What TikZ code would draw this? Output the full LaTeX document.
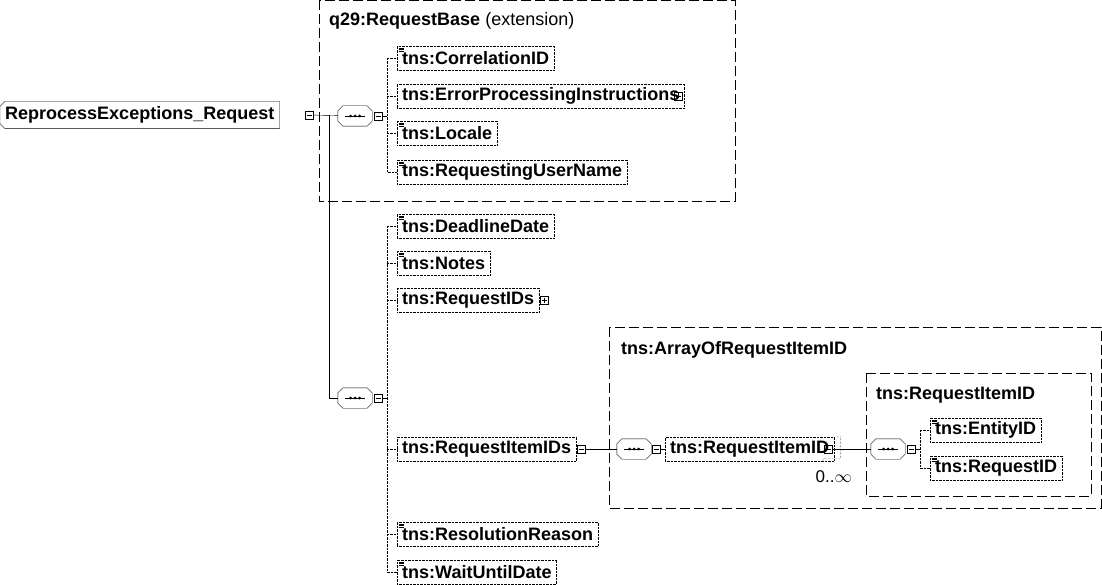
\documentclass[tikz,border=0pt]{standalone}
\usepackage{fontspec}
\setmainfont{Liberation Sans}

\begin{document}
\begin{tikzpicture}[
  x=1pt, y=-1pt,
  font=\fontsize{18}{20}\selectfont\bfseries,
  elem/.style={
    draw, densely dotted, anchor=west, inner xsep=5pt, minimum height=24pt
  },
  root/.style={
    anchor=west, inner xsep=5pt, minimum height=27pt
  },
  group/.style={
    draw, dash pattern=on 10pt off 4pt
  },
  title/.style={
    anchor=west, inner sep=0pt
  },
  seq/.style={
    minimum width=34pt, minimum height=20pt, inner sep=0pt
  },
  box/.style={
    draw, solid, minimum size=8pt, inner sep=0pt
  },
  link/.style={densely dotted}
]
\useasboundingbox (0,0) rectangle (1102,585);

% minus and plus boxes
\newcommand{\minusbox}[2]{%
  \node[box] (#1) at (#2) {};
  \draw ([xshift=-2.5pt]#1.center) -- ([xshift=2.5pt]#1.center);}
\newcommand{\plusbox}[2]{%
  \node[box] (#1) at (#2) {};
  \draw ([xshift=-2.5pt]#1.center) -- ([xshift=2.5pt]#1.center)
        ([yshift=-2.5pt]#1.center) -- ([yshift=2.5pt]#1.center);}
% simple type mark
\newcommand{\simple}[1]{%
  \foreach \k in {0,1.6,3.2}
    \draw[solid, line width=0.5pt] ([xshift=2pt, yshift=-2pt-\k pt]#1.north west) -- ++(5pt,0);}
% sequence symbol
\newcommand{\seqsym}[2]{%
  \node[seq] (#1) at (#2) {};
  \draw ([xshift=5pt]#1.north west) -- ([xshift=-5pt]#1.north east) -- ([yshift=-5pt]#1.north east)
    -- ([yshift=5pt]#1.south east) -- ([xshift=-5pt]#1.south east) -- ([xshift=5pt]#1.south west)
    -- ([yshift=5pt]#1.south west) -- ([yshift=-5pt]#1.north west) -- cycle;
  \draw ([xshift=-10pt]#1.center) -- ([xshift=10pt]#1.center);
  \foreach \d in {-4.5,0,4.5}
    \fill ([xshift=\d pt]#1.center) circle (1.5pt);}

% groups
\draw[group] (319,0) rectangle (735,201);
\node[title] (baseT) at (329,21) {q29:RequestBase \mdseries(extension)};
\draw[group] (609,327) rectangle (1101,508);
\node[title] (arrT) at (621,350) {tns:ArrayOfRequestItemID};
\draw[group] (866,373) rectangle (1091,496);
\node[title] (itemT) at (876,395) {tns:RequestItemID};

% root
\node[root] (root) at (0,115) {ReprocessExceptions\_Request};
\draw ([xshift=5pt]root.north west) -- (root.north east) -- (root.south east)
  -- ([xshift=5pt]root.south west) -- ([yshift=5pt]root.south west)
  -- ([yshift=-5pt]root.north west) -- cycle;
\minusbox{rootB}{309,115}

% first sequence
\seqsym{seqA}{355,116}
\minusbox{seqAB}{378,116}
\draw (rootB) -- (seqA);
\coordinate (busA) at (387,116);
\draw (seqAB) -- (busA);

\node[elem] (corr) at (397,58) {tns:CorrelationID};
\node[elem] (err) at (397,96) {tns:ErrorProcessingInstructions\hspace{11pt}};
\plusbox{errB}{[xshift=-6pt]err.east}
\node[elem] (loc) at (397,133) {tns:Locale};
\node[elem] (user) at (397,172) {tns:RequestingUserName};
\foreach \n in {corr,loc,user} \simple{\n};
\draw[link] (corr.west) -| (user.west -| busA) -- (user.west);
\foreach \n in {err,loc} \draw[link] (\n.west) -- (\n.west -| busA);

% second sequence
\seqsym{seqB}{355,398}
\minusbox{seqBB}{378,398}
\coordinate (trunk) at (329,115);
\draw (trunk) |- (seqB);
\coordinate (busB) at (387,398);
\draw (seqBB) -- (busB);

\node[elem] (dead) at (397,226) {tns:DeadlineDate};
\node[elem] (notes) at (397,263) {tns:Notes};
\node[elem] (reqids) at (397,300) {tns:RequestIDs};
\plusbox{reqidsB}{[xshift=5pt]reqids.east}
\node[elem] (items) at (397,449) {tns:RequestItemIDs};
\minusbox{itemsB}{[xshift=5pt]items.east}
\node[elem] (reason) at (397,534) {tns:ResolutionReason};
\node[elem] (wait) at (397,572) {tns:WaitUntilDate};
\foreach \n in {dead,notes,reason,wait} \simple{\n};
\draw[link] (dead.west) -| (wait.west -| busB) -- (wait.west);
\foreach \n in {notes,reqids,items,reason} \draw[link] (\n.west) -- (\n.west -| busB);

% array content
\seqsym{seqC}{634,449}
\minusbox{seqCB}{656,449}
\draw (itemsB) -- (seqC);
\node[elem] (item) at (665,449) {tns:RequestItemID\hspace{11pt}};
\draw[densely dotted] ([xshift=3pt]item.north east) -- ++(3pt,0) |- ([yshift=3pt,xshift=-10pt]item.south east) -- ++(-3pt,-3pt);
\minusbox{itemB}{[xshift=-6pt]item.east}
\draw (seqCB) -- (item);
\node[anchor=north east, inner sep=0pt, font=\fontsize{17}{19}\selectfont\mdseries] (mult) at (852,470) {0..$\infty$};

% item content
\seqsym{seqD}{888,449}
\minusbox{seqDB}{911,449}
\draw (itemB) -- (seqD);
\coordinate (busD) at (920,449);
\draw (seqDB) -- (busD);
\node[elem] (ent) at (930,430) {tns:EntityID};
\node[elem] (rid) at (930,468) {tns:RequestID};
\foreach \n in {ent,rid} \simple{\n};
\draw[link] (ent.west) -| (rid.west -| busD) -- (rid.west);
\end{tikzpicture}
\end{document}
